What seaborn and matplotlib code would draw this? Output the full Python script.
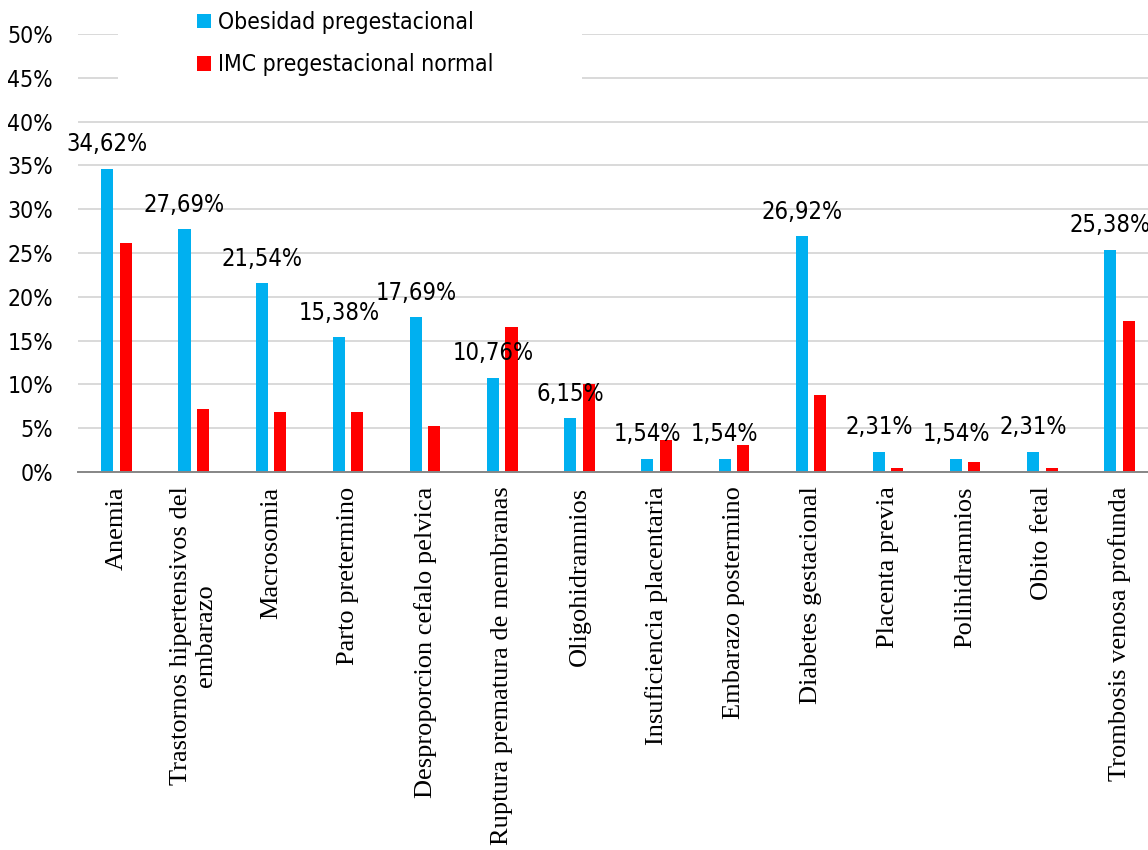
import matplotlib
matplotlib.use("Agg")
import matplotlib.pyplot as plt
from matplotlib.patches import Rectangle
from matplotlib.ticker import MultipleLocator, FuncFormatter
from matplotlib import font_manager as fm
import seaborn as sns
import pandas as pd

categories = [
    "Anemia",
    "Trastornos hipertensivos del\nembarazo",
    "Macrosomia",
    "Parto pretermino",
    "Desproporcion cefalo pelvica",
    "Ruptura prematura de membranas",
    "Oligohidramnios",
    "Insuficiencia placentaria",
    "Embarazo postermino",
    "Diabetes gestacional",
    "Placenta previa",
    "Polihidramnios",
    "Obito fetal",
    "Trombosis venosa profunda",
]
obesidad = [34.62, 27.69, 21.54, 15.38, 17.69, 10.76, 6.15, 1.54, 1.54, 26.92, 2.31, 1.54, 2.31, 25.38]
normal = [26.1, 7.2, 6.9, 6.9, 5.3, 16.6, 10.0, 3.6, 3.1, 8.8, 0.5, 1.1, 0.5, 17.2]
series_names = ["Obesidad pregestacional", "IMC pregestacional normal"]
colors = ["#00B0F0", "#FF0000"]

df = pd.DataFrame({
    "cat": categories * 2,
    "serie": [series_names[0]] * len(categories) + [series_names[1]] * len(categories),
    "valor": obesidad + normal,
})

sns.set_theme(style="white")
plt.rcParams["font.family"] = ["DejaVu Sans"]
plt.rcParams["text.color"] = "black"
plt.rcParams["xtick.color"] = "black"
plt.rcParams["ytick.color"] = "black"

# Tahoma-like look: use condensed DejaVu if installed
cond_path = fm.findfont(fm.FontProperties(family="DejaVu Sans", stretch="condensed"))
if "Condensed" in cond_path:
    sans = fm.FontProperties(fname=cond_path)
    fs_tick, fs_lab, fs_leg = 16.5, 17, 16.5
else:
    sans = fm.FontProperties(family="DejaVu Sans")
    fs_tick, fs_lab, fs_leg = 15, 15, 15

W, H = 1148, 850
fig = plt.figure(figsize=(W / 100, H / 100), dpi=100)
left_px, top_px, base_px, catw = 78, 34, 472, 77.15
ax = fig.add_axes([left_px / W, 1 - base_px / H, 14 * catw / W, (base_px - top_px) / H])

sns.barplot(data=df, x="cat", y="valor", hue="serie", palette=colors,
            width=0.477, gap=0.345, ax=ax, saturation=1, legend=True,
            edgecolor="none", linewidth=0)

ax.set_xlim(-0.5, len(categories) - 0.5)
ax.set_ylim(0, 50)
ax.yaxis.set_major_locator(MultipleLocator(5))
ax.yaxis.set_major_formatter(FuncFormatter(lambda v, p: f"{v:.0f}%"))
ax.set_axisbelow(True)
ax.grid(axis="y", color="#D9D9D9", linewidth=1.4)
ax.grid(axis="x", visible=False)
for s in ["left", "top", "right"]:
    ax.spines[s].set_visible(False)
ax.spines["bottom"].set_color("#868686")
ax.spines["bottom"].set_linewidth(1.4)
ax.set_xlabel("")
ax.set_ylabel("")

ax.tick_params(axis="y", length=0, pad=18, labelcolor="black")
for t in ax.get_yticklabels():
    t.set_fontproperties(sans)
    t.set_fontsize(fs_tick)
ax.set_xticks(range(len(categories)))
ax.set_xticklabels(categories, rotation=90, family="Liberation Serif", fontsize=19,
                   ha="center", va="top", multialignment="center", color="black")
ax.tick_params(axis="x", which="major", length=0, pad=10.5)
ax.set_xticks([i - 0.5 for i in range(len(categories) + 1)], minor=True)
ax.tick_params(axis="x", which="minor", length=7, width=1.3, color="#868686", direction="out")

labels_txt = [f"{v:.2f}".replace(".", ",") + "%" for v in obesidad]
txts = ax.bar_label(ax.containers[0], labels=labels_txt, padding=9, color="black")
for t in txts:
    t.set_fontproperties(sans)
    t.set_fontsize(fs_lab)

# legend background box (Excel style, white, no border)
ax.add_patch(Rectangle((118 / W, 1 - 95 / H), 464 / W, 95 / H, transform=fig.transFigure,
                       facecolor="white", edgecolor="none", zorder=3, clip_on=False))
handles, labs = ax.get_legend_handles_labels()
leg_prop = sans.copy()
leg_prop.set_size(fs_leg)
leg = ax.legend(handles, labs, loc="upper left", bbox_to_anchor=(197 / W, 1 - 11 / H),
                bbox_transform=fig.transFigure, frameon=False, prop=leg_prop,
                handlelength=0.6, handleheight=0.6, handletextpad=0.3, labelspacing=0.85,
                borderpad=0, borderaxespad=0, labelcolor="black")
leg.set_zorder(4)

fig.savefig("out.png", dpi=100)
